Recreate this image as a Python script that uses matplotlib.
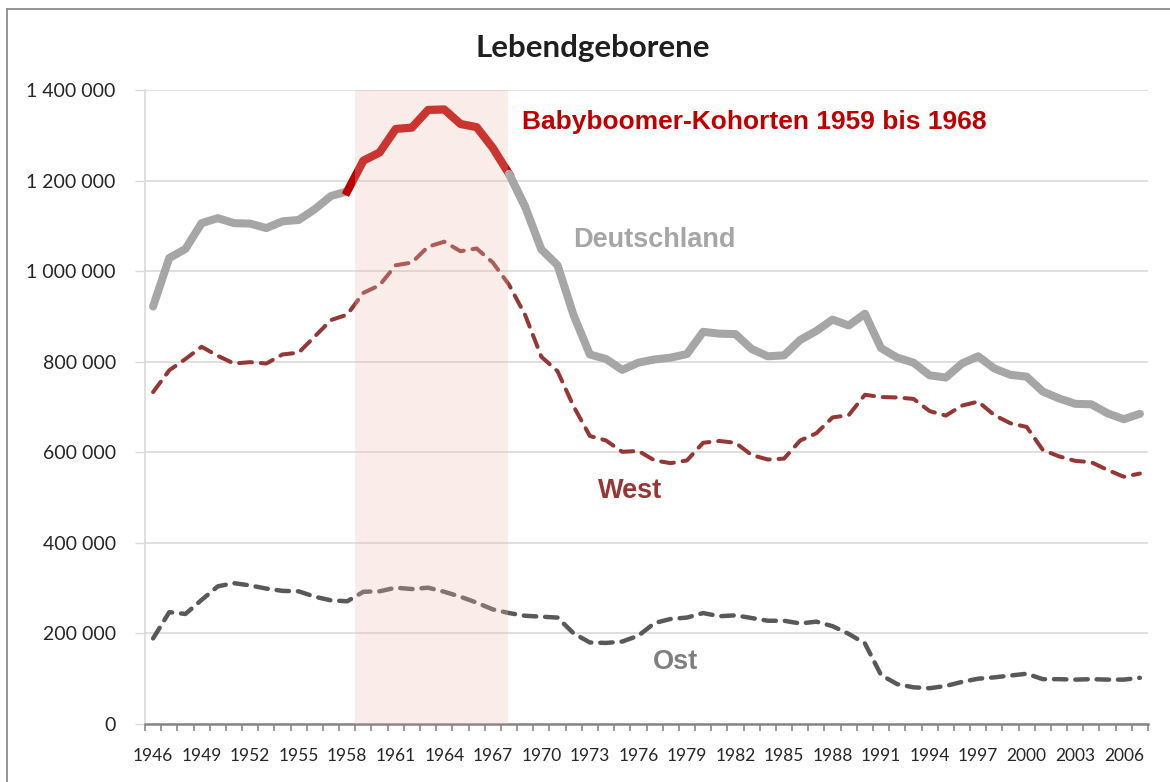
"""
Lebendgeborene in Deutschland, West und Ost 1946-2007
"""
import numpy as np
import matplotlib.pyplot as plt
from matplotlib.lines import Line2D
from matplotlib.ticker import FuncFormatter

# Jahre
jahre = list(range(1946, 2008))

# Lebendgeborene Deutschland
deutschland = [922000, 1029000, 1049000, 1106000, 1117000, 1106000, 1105000, 1095000,
               1110000, 1113000, 1137000, 1166000, 1176000, 1244000, 1262000, 1314000,
               1317000, 1356000, 1357000, 1325000, 1318000, 1272000, 1215000, 1142000,
               1048000, 1013000, 902000, 816000, 806000, 782000, 798000, 805000,
               809000, 817000, 866000, 862000, 861000, 828000, 812000, 814000,
               848000, 868000, 893000, 880000, 906000, 830000, 809000, 798000,
               770000, 765000, 796000, 812000, 785000, 771000, 767000, 734000,
               719000, 707000, 706000, 686000, 673000, 685000]

# Früheres Bundesgebiet
west = [733000, 781000, 806000, 833000, 813000, 796000, 799000, 796000,
        816000, 820000, 856000, 892000, 904000, 952000, 969000, 1013000,
        1019000, 1054000, 1065000, 1044000, 1050000, 1019000, 970000, 903000,
        811000, 779000, 701000, 636000, 626000, 601000, 603000, 582000,
        576000, 582000, 621000, 625000, 621000, 594000, 584000, 586000,
        626000, 642000, 677000, 682000, 727000, 722000, 721000, 718000,
        691000, 681000, 703000, 712000, 682000, 664000, 656000, 605000,
        591000, 581000, 578000, 561000, 546000, 553000]

# Neue Länder
ost = [189000, 247000, 243000, 274000, 304000, 311000, 306000, 299000,
       294000, 293000, 281000, 273000, 271000, 292000, 293000, 301000,
       298000, 301000, 292000, 281000, 268000, 253000, 245000, 239000,
       237000, 235000, 200000, 180000, 179000, 182000, 195000, 223000,
       232000, 235000, 245000, 238000, 240000, 234000, 228000, 228000,
       222000, 226000, 216000, 199000, 178000, 108000, 88000, 81000,
       79000, 84000, 93000, 100000, 103000, 107000, 111000, 99000,
       99000, 98000, 99000, 98000, 98000, 102000]

boom_start, boom_end = 1958, 1968

fig = plt.figure(figsize=(11.7, 7.82), dpi=100)
ax = fig.add_axes([145 / 1170, 58 / 782, 1003 / 1170, 634 / 782])

# Linien
ax.plot(jahre, deutschland, color='#A6A6A6', lw=5.8, solid_joinstyle='round',
        solid_capstyle='round', zorder=3)
i0, i1 = jahre.index(boom_start), jahre.index(boom_end)
ax.plot(jahre[i0:i1 + 1], deutschland[i0:i1 + 1], color='#C00000', lw=5.8,
        solid_joinstyle='round', zorder=4)
ax.plot(jahre[i1:i1 + 2], deutschland[i1:i1 + 2], color='#A6A6A6', lw=5.8,
        solid_capstyle='round', zorder=4)
ax.plot(jahre, west, color='#953735', lw=2.9, ls=(0, (3.2, 2.2)),
        dash_capstyle='round', zorder=3)
ax.plot(jahre, ost, color='#595959', lw=3.2, ls=(0, (2.8, 2.0)),
        dash_capstyle='round', zorder=3)

# Schattierung Babyboomer
ax.axvspan(boom_start + 0.5, boom_end - 0.05, color=(0.925, 0.74, 0.69), alpha=0.28,
           lw=0, zorder=5)

# Achsen
ax.set_xlim(jahre[0] - 0.5, jahre[-1] + 0.5)
ax.set_ylim(0, 1400000)
ax.set_yticks(np.arange(0, 1400001, 200000))
ax.yaxis.set_major_formatter(FuncFormatter(lambda v, p: f"{v:,.0f}".replace(",", " ")))
ax.set_xticks(jahre[::3])
ax.set_xticks(np.arange(jahre[0] - 0.5, jahre[-1] + 1), minor=True)
ax.tick_params(axis='x', which='major', length=0, pad=17, labelsize=12.5,
               labelcolor='#262626')
ax.tick_params(axis='x', which='minor', length=5, width=1.2, color='#868686')
ax.tick_params(axis='y', length=7, width=1, color='#D9D9D9', pad=14, labelsize=14,
               labelcolor='#262626')
for lab in ax.get_xticklabels() + ax.get_yticklabels():
    lab.set_fontfamily('Lato')

ax.grid(axis='y', color='#D9D9D9', lw=1.2, zorder=0)
ax.set_axisbelow(True)
ax.spines['top'].set_visible(False)
ax.spines['right'].set_visible(False)
ax.spines['left'].set_color('#D9D9D9')
ax.spines['left'].set_linewidth(1.2)
ax.spines['bottom'].set_color('#868686')
ax.spines['bottom'].set_linewidth(1.8)

# Beschriftungen
fig.text(593 / 1170, 1 - 57 / 782, "Lebendgeborene", ha='center', va='baseline',
         fontsize=22.5, fontweight='bold', family='Lato', color='#1F1F1F')
ax.text(1968.8, 1329000, "Babyboomer-Kohorten 1959 bis 1968", fontsize=19,
        fontweight='bold', family='Liberation Sans', color='#C00000', va='center')
ax.text(1971.95, 1069000, "Deutschland", fontsize=19.5, fontweight='bold',
        family='Liberation Sans', color='#A6A6A6', va='center')
ax.text(1973.5, 514000, "West", fontsize=19.5, fontweight='bold',
        family='Liberation Sans', color='#953735', va='center')
ax.text(1976.9, 137000, "Ost", fontsize=19.5, fontweight='bold',
        family='Liberation Sans', color='#7F7F7F', va='center')

# Rahmen
fig.add_artist(Line2D([7 / 1170, 7 / 1170], [0, 1 - 9 / 782], color='#8C8C8C', lw=1.3))
fig.add_artist(Line2D([7 / 1170, 1], [1 - 9 / 782, 1 - 9 / 782], color='#8C8C8C', lw=1.3))

plt.savefig('out.png', dpi=100)
